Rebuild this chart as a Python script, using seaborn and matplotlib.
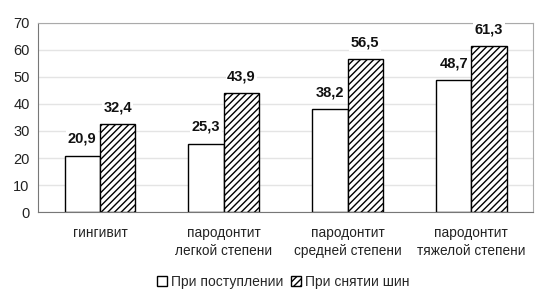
import pandas as pd
import seaborn as sns
import matplotlib
matplotlib.use('Agg')
import matplotlib.pyplot as plt
from matplotlib.patches import Patch

categories = ['гингивит', 'пародонтит\nлегкой степени', 'пародонтит\nсредней степени', 'пародонтит\nтяжелой степени']
admission = [20.9, 25.3, 38.2, 48.7]
removal = [32.4, 43.9, 56.5, 61.3]
series = ['При поступлении', 'При снятии шин']

df = pd.DataFrame({
    'category': categories * 2,
    'value': admission + removal,
    'series': [series[0]] * 4 + [series[1]] * 4,
})

sns.set_style('white')
plt.rcParams['font.family'] = ['Liberation Sans', 'DejaVu Sans']
plt.rcParams['hatch.linewidth'] = 1.0

fig = plt.figure(figsize=(5.43, 2.97), dpi=100)
ax = fig.add_axes([0.070, 0.286, 0.912, 0.637])

sns.barplot(data=df, x='category', y='value', hue='series', ax=ax,
            palette=['white', 'white'], edgecolor='black', linewidth=1.0,
            width=0.57, gap=0, legend=False)

# hatch the second series
for bar in ax.containers[1]:
    bar.set_hatch('/////')

for cont in ax.containers:
    ax.bar_label(cont, labels=[f'{v:.1f}'.replace('.', ',') for v in cont.datavalues],
                 padding=7, fontsize=10.5, fontweight='bold', color='#111111',
                 bbox=dict(facecolor='white', edgecolor='none', pad=1))

ax.set_ylim(0, 70)
ax.set_yticks(range(0, 71, 10))
ax.set_xlim(-0.5, 3.5)
ax.yaxis.grid(True, color='#e4e4e4', linewidth=1)
ax.set_axisbelow(True)
ax.set_xlabel('')
ax.set_ylabel('')
ax.tick_params(axis='y', labelsize=10.5, colors='#222222', length=0, pad=6)
ax.tick_params(axis='x', labelsize=9.8, colors='#222222', length=0, pad=10)
for lab in ax.get_xticklabels():
    lab.set_linespacing(1.35)
for s in ['top', 'right']:
    ax.spines[s].set_color('#aaaaaa')
ax.spines['left'].set_color('#777777')
ax.spines['bottom'].set_color('#777777')

handles = [Patch(facecolor='white', edgecolor='black', label=series[0]),
           Patch(facecolor='white', edgecolor='black', hatch='/////', label=series[1])]
ax.legend(handles=handles, loc='center', bbox_to_anchor=(0.495, -0.37), ncol=2, frameon=False,
          fontsize=10, handlelength=0.75, handleheight=0.75, handletextpad=0.3,
          columnspacing=0.5, borderaxespad=0)

fig.savefig('out.png', dpi=100)
